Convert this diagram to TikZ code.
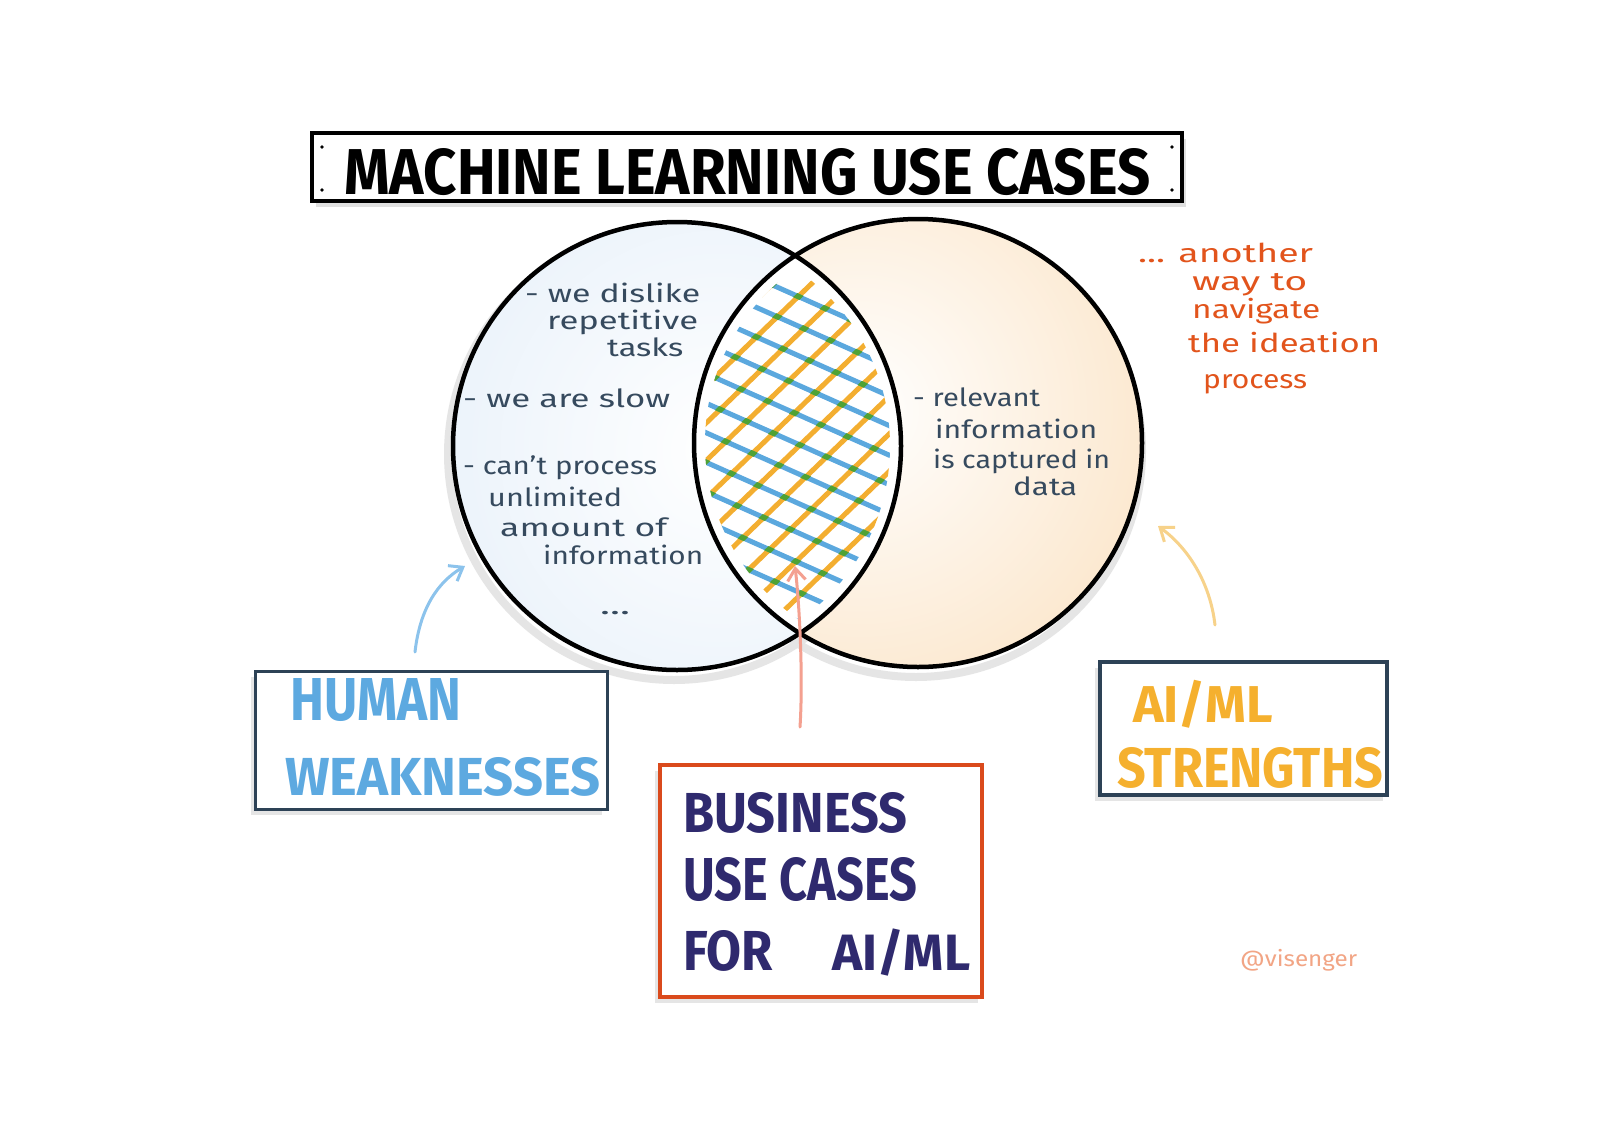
\documentclass[tikz,border=0pt]{standalone}
\usepackage{fontspec}
\setmainfont{Fira Sans}
\usetikzlibrary{arrows.meta}
\definecolor{ink}{HTML}{364A5E}
\definecolor{humanblue}{HTML}{5DA9E0}
\definecolor{aiyellow}{HTML}{F5B02E}
\definecolor{bizink}{HTML}{2F2A6E}
\definecolor{bizred}{HTML}{DA4A1C}
\definecolor{noteorange}{HTML}{E2541C}
\definecolor{visen}{HTML}{F2A585}
\definecolor{boxnavy}{HTML}{2D4256}
\definecolor{hblue}{HTML}{5BA8DE}
\definecolor{horange}{HTML}{F3AE30}
\definecolor{hgreen}{HTML}{4FA235}
\definecolor{arrblue}{HTML}{8CC3EC}
\definecolor{arryellow}{HTML}{F7D28A}
\definecolor{arrred}{HTML}{F4A090}
\definecolor{lblue}{HTML}{E0ECF8}
\definecolor{peach}{HTML}{FADDB8}
\newcommand\fitx[2]{\resizebox{#1pt}{\height}{#2}}
\newcommand\fitwh[3]{\resizebox{#1pt}{#2pt}{#3}}
\newcommand\fitw[2]{\resizebox{#1pt}{!}{#2}}
\begin{document}
\begin{tikzpicture}[x=1pt,y=-1pt,
  txt/.style={inner sep=0pt, anchor=base west, text=ink, font=\fontsize{25}{30}\selectfont},
  note/.style={txt, text=noteorange, font=\fontsize{26}{30}\selectfont},
  capt/.style={inner sep=0pt, anchor=base west, font=\bfseries},
  frame/.style={draw, inner sep=0pt, fill=white},
  hbl/.style={hblue, line width=5pt, line cap=round},
  hor/.style={horange, line width=5pt, line cap=round},
  hgr/.style={hgreen, line width=5.5pt},
  sketcharrow/.style={line width=3pt, line cap=round, -{Straight Barb[length=12pt,width=18pt,line width=3pt]}}]
\useasboundingbox (0,0) rectangle (1600,1130);
\fill[white] (0,0) rectangle (1600,1130);

% shadows
\draw[black!10, line width=8pt] (674,454) circle[radius=226pt];
\draw[black!10, line width=8pt] (916,451) circle[radius=226pt];

% circle fills
\begin{scope}
  \clip (677,446) circle[radius=224pt];
  \fill[lblue] (677,446) circle[radius=224pt];
  \shade[inner color=white, outer color=lblue] (720,450) circle[radius=440pt];
\end{scope}
\begin{scope}
  \clip (918,443) circle[radius=224pt];
  \fill[peach] (918,443) circle[radius=224pt];
  \shade[inner color=white, outer color=peach] (860,410) circle[radius=440pt];
\end{scope}
% lens
\begin{scope}
  \clip (677,446) circle[radius=224pt];
  \fill[white] (918,443) circle[radius=224pt];
\end{scope}
% hatch
\begin{scope}
  \clip (677,446) circle[radius=213pt];
  \clip (918,443) circle[radius=213pt];
  \foreach \i in {-8,...,8}{
    \draw[hor] ({800+18.76*(\i)-300*0.7193},{445+19.42*(\i)+300*0.6947}) -- ({800+18.76*(\i)+300*0.7193},{445+19.42*(\i)-300*0.6947});
  }
  \foreach \i in {-8,...,8}{
    \draw[hbl] ({800-10.98*(\i)-300*0.9135},{445+24.66*(\i)-300*0.4067}) -- ({800-10.98*(\i)+300*0.9135},{445+24.66*(\i)+300*0.4067});
  }
  % green where the lines cross
  \foreach \j in {-8,...,8}{
    \begin{scope}
      \clip ({800+18.76*(\j)-215.8-2.2},{445+19.42*(\j)+208.4-2.3})
         -- ({800+18.76*(\j)+215.8-2.2},{445+19.42*(\j)-208.4-2.3})
         -- ({800+18.76*(\j)+215.8+2.2},{445+19.42*(\j)-208.4+2.3})
         -- ({800+18.76*(\j)-215.8+2.2},{445+19.42*(\j)+208.4+2.3}) -- cycle;
      \foreach \i in {-8,...,8}{
        \draw[hgr] ({800-10.98*(\i)-300*0.9135},{445+24.66*(\i)-300*0.4067}) -- ({800-10.98*(\i)+300*0.9135},{445+24.66*(\i)+300*0.4067});
      }
    \end{scope}
  }
\end{scope}
% circle outlines
\draw[line width=4.5pt] (677,446) circle[radius=224pt];
\draw[line width=4.5pt] (918,443) circle[radius=224pt];

% title
\fill[black!12] (316,139) rectangle (1186,207);
\node[frame, line width=4pt, minimum width=870pt, minimum height=68pt] (titlebox) at (747,167) {};
\foreach \p in {(322,147),(322,190),(1172,147),(1172,190)} \fill \p circle[radius=1.8pt];
\node[capt] (title) at (344,194) {\fitwh{806}{46}{MACHINE LEARNING USE CASES}};

% left circle text
\node[txt] (l1) at (525,302) {\fitx{175}{- we dislike}};
\node[txt] (l2) at (547,329) {\fitx{151}{repetitive}};
\node[txt] (l3) at (607,356) {\fitx{76}{tasks}};
\node[txt] (l4) at (463,407) {\fitx{207}{- we are slow}};
\node[txt] (l5) at (463,474) {\fitx{194}{- can't process}};
\node[txt] (l6) at (488,506) {\fitx{134}{unlimited}};
\node[txt] (l7) at (500,536) {\fitx{167}{amount of}};
\node[txt] (l8) at (543,564) {\fitx{160}{information}};
\node[txt] (l9) at (600,614) {\fitx{30}{...}};

% right circle text
\node[txt] (r1) at (913,406) {\fitx{127}{- relevant}};
\node[txt] (r2) at (935,438) {\fitx{162}{information}};
\node[txt] (r3) at (933,468) {\fitx{177}{is captured in}};
\node[txt] (r4) at (1013,495) {\fitx{64}{data}};

% orange note
\node[note] (n1) at (1138,262) {\fitx{175}{... another}};
\node[note] (n2) at (1192,290) {\fitx{115}{way to}};
\node[note] (n3) at (1192,318) {\fitx{128}{navigate}};
\node[note] (n4) at (1188,352) {\fitx{192}{the ideation}};
\node[note] (n5) at (1203,388) {\fitx{104}{process}};

% boxes
\fill[black!10] (251,677) rectangle (602,815);
\node[frame, draw=boxnavy, line width=3.5pt, minimum width=352pt, minimum height=138pt] (hw) at (431.5,740.5) {};
\node[capt, text=humanblue] (hw1) at (290,720) {\fitwh{171}{42}{HUMAN}};
\node[capt, text=humanblue] (hw2) at (285,795) {\fitwh{315}{38}{WEAKNESSES}};

\fill[black!10] (1095,668) rectangle (1383,801);
\node[frame, draw=boxnavy, line width=3.5pt, minimum width=287pt, minimum height=133pt] (ai) at (1243.5,728.5) {};
\node[capt, text=aiyellow] (ai1) at (1133,722) {\fitw{140}{AI/ML}};
\node[capt, text=aiyellow] (ai2) at (1117,787) {\fitwh{266}{40}{STRENGTHS}};

\fill[black!10] (655,771) rectangle (978,1003);
\node[frame, draw=bizred, line width=4pt, minimum width=322pt, minimum height=232pt] (biz) at (821,881) {};
\node[capt, text=bizink] (b1) at (683,832) {\fitwh{224}{40}{BUSINESS}};
\node[capt, text=bizink] (b2) at (683,900) {\fitwh{234}{43}{USE CASES}};
\node[capt, text=bizink] (b3) at (683,970) {\fitwh{90}{40}{FOR}};
\node[capt, text=bizink] (b4) at (832,970) {\fitw{138}{AI/ML}};

% signature
\node[txt, text=visen, font=\fontsize{22}{26}\selectfont] (sig) at (1240,966) {\fitx{117}{@visenger}};

% arrows
\coordinate (hwS) at (415,652);
\coordinate (hwE) at (465,566);
\coordinate (aiS) at (1215,625);
\coordinate (aiE) at (1158,526);
\coordinate (bizS) at (800,727);
\coordinate (bizE) at (795,566);
\draw[sketcharrow, arrblue] (hwS) .. controls (420,608) and (438,582) .. (hwE);
\draw[sketcharrow, arryellow] (aiS) .. controls (1210,582) and (1188,548) .. (aiE);
\draw[sketcharrow, arrred] (bizS) .. controls (803,680) and (800,610) .. (bizE);
\end{tikzpicture}
\end{document}
